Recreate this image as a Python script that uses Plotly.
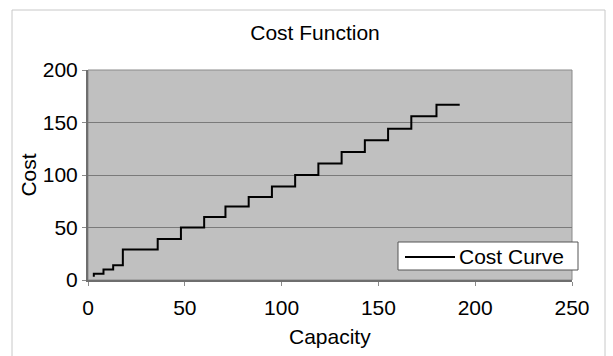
import plotly.graph_objects as go

# Step cost function: capacity breakpoints and cost levels
capacity = [3, 3, 8, 13, 18, 36, 48, 60, 71, 83, 95, 107, 119, 131, 143, 155, 167, 180, 192]
cost = [3, 6, 10, 14, 29, 39, 50, 60, 70, 79, 89, 100, 111, 122, 133, 144, 156, 167, 167]

x_ticks = [0, 50, 100, 150, 200, 250]
y_ticks = [0, 50, 100, 150, 200]
series_name = "Cost Curve"

W, H = 613, 356
L, R, T, B = 88, 41, 70, 76
pw, ph = W - L - R, H - T - B

FAM = "Liberation Sans, Arial, sans-serif"
FS = 21

fig = go.Figure()
fig.add_trace(go.Scatter(
    x=capacity, y=cost, mode="lines", name=series_name, showlegend=False,
    line=dict(color="black", width=2, shape="hv"),
))

fig.update_layout(
    width=W, height=H,
    margin=dict(l=L, r=R, t=T, b=B),
    paper_bgcolor="white",
    plot_bgcolor="#c0c0c0",
    font=dict(family=FAM, size=FS, color="black"),
    title=dict(text="Cost Function", x=315 / W, xref="container", xanchor="center",
               y=1 - 33 / H, yref="container", yanchor="middle",
               font=dict(family=FAM, size=FS, color="black")),
    xaxis=dict(range=[0, 250], tickvals=x_ticks, showgrid=False, zeroline=False,
               showline=True, linecolor="#6e6e6e", linewidth=2, mirror=False,
               ticks="outside", ticklen=4, tickcolor="#8a8a8a",
               ticklabelstandoff=4,
               tickfont=dict(family=FAM, size=FS, color="black")),
    yaxis=dict(range=[0, 200], tickvals=y_ticks, showgrid=True, gridcolor="#7a7a7a",
               gridwidth=1, zeroline=False, showline=True, linecolor="#6e6e6e",
               linewidth=2, ticks="outside", ticklen=4, tickcolor="#8a8a8a",
               title=dict(text="Cost", standoff=0,
                          font=dict(family=FAM, size=FS, color="black")),
               tickfont=dict(family=FAM, size=FS, color="black")),
    showlegend=False,
)

def px_x(p):
    return (p - L) / pw

def px_y(p):
    return (280 - p) / ph

# x-axis title
fig.add_annotation(text="Capacity", xref="paper", yref="paper",
                   x=px_x(330), y=px_y(336), xanchor="center", yanchor="middle",
                   showarrow=False, font=dict(family=FAM, size=FS, color="black"))

# plot area border (right/top)
fig.add_shape(type="rect", xref="paper", yref="paper", x0=0, x1=1, y0=0, y1=1,
              line=dict(color="#8a8a8a", width=1), layer="below")
# outer chart frame
fig.add_shape(type="rect", xref="paper", yref="paper",
              x0=px_x(12), x1=px_x(605), y0=px_y(358), y1=px_y(10),
              line=dict(color="#c8c8c8", width=1))

# legend box (drawn to match the compact Excel-style legend)
fig.add_shape(type="rect", xref="paper", yref="paper",
              x0=px_x(398), x1=px_x(578), y0=px_y(270), y1=px_y(242),
              fillcolor="white", line=dict(color="#555555", width=1))
fig.add_shape(type="line", xref="paper", yref="paper",
              x0=px_x(405), x1=px_x(455), y0=px_y(257), y1=px_y(257),
              line=dict(color="black", width=2))
fig.add_annotation(text=series_name, xref="paper", yref="paper",
                   x=px_x(457), y=px_y(256), xanchor="left", yanchor="middle",
                   showarrow=False, font=dict(family=FAM, size=FS, color="black"))

fig.write_html("out.html")
